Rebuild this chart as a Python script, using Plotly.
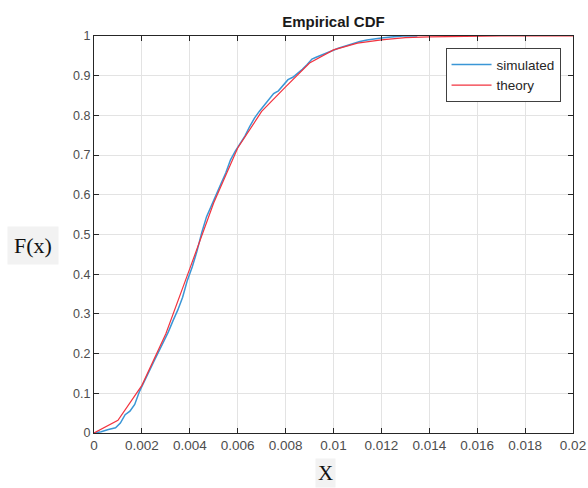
import plotly.graph_objects as go

# Theoretical CDF (piecewise at 0.001 steps)
theory_x = [0, 0.001, 0.002, 0.003, 0.004, 0.005, 0.006, 0.007, 0.008, 0.009, 0.010,
            0.011, 0.012, 0.013, 0.014, 0.015, 0.016, 0.017, 0.018, 0.019, 0.020]
theory_F = [0, 0.032, 0.12, 0.25, 0.414, 0.58, 0.718, 0.81, 0.872, 0.932, 0.965,
            0.982, 0.99, 0.996, 0.998, 0.999, 1.0, 1.0, 1.0, 1.0, 1.0]

# Simulated empirical CDF
sim_x = [0, 0.0003, 0.0006, 0.0009, 0.0011, 0.0013, 0.0015, 0.0017, 0.0019, 0.0021,
         0.0023, 0.0025, 0.0027, 0.0029, 0.0031, 0.0033, 0.0035, 0.0037, 0.0039, 0.0041,
         0.0043, 0.0045, 0.0047, 0.0049, 0.0051, 0.0053, 0.0055, 0.0057, 0.0059, 0.0061,
         0.0063, 0.0065, 0.0067, 0.0069, 0.0071, 0.0073, 0.0075, 0.0077, 0.0079, 0.0081,
         0.0083, 0.0085, 0.0087, 0.0089, 0.0091, 0.0093, 0.0095, 0.0097, 0.0099, 0.0102,
         0.0105, 0.0108, 0.0111, 0.0114, 0.0117, 0.0120, 0.0123, 0.0126, 0.0129, 0.0135]
sim_F = [0, 0.003, 0.009, 0.013, 0.025, 0.046, 0.055, 0.072, 0.105, 0.132,
         0.155, 0.18, 0.205, 0.228, 0.254, 0.283, 0.31, 0.342, 0.385, 0.418,
         0.458, 0.505, 0.545, 0.572, 0.598, 0.628, 0.655, 0.688, 0.71, 0.728,
         0.748, 0.772, 0.793, 0.81, 0.826, 0.842, 0.855, 0.862, 0.875, 0.89,
         0.896, 0.905, 0.916, 0.928, 0.942, 0.947, 0.952, 0.958, 0.963, 0.969,
         0.975, 0.981, 0.986, 0.99, 0.993, 0.995, 0.997, 0.999, 1.0, 1.0]

x_ticks = [0, 0.002, 0.004, 0.006, 0.008, 0.01, 0.012, 0.014, 0.016, 0.018, 0.02]
x_labels = ["0", "0.002", "0.004", "0.006", "0.008", "0.01", "0.012", "0.014", "0.016", "0.018", "0.02"]
y_ticks = [0, 0.1, 0.2, 0.3, 0.4, 0.5, 0.6, 0.7, 0.8, 0.9, 1]
y_labels = ["0", "0.1", "0.2", "0.3", "0.4", "0.5", "0.6", "0.7", "0.8", "0.9", "1"]

fig = go.Figure()
fig.add_trace(go.Scatter(x=sim_x, y=sim_F, mode="lines", name="simulated",
                         line=dict(color="#3a96d6", width=1.5)))
fig.add_trace(go.Scatter(x=theory_x, y=theory_F, mode="lines", name="theory",
                         line=dict(color="#f2333f", width=1.2)))

axis_common = dict(showline=True, linecolor="#262626", linewidth=1, mirror="allticks",
                   ticks="inside", ticklen=5, tickcolor="#262626",
                   showgrid=True, gridcolor="#e3e3e3", gridwidth=1, zeroline=False)

fig.update_xaxes(range=[0, 0.02], tickvals=x_ticks, ticktext=x_labels,
                 tickfont=dict(family="Liberation Sans, Arial", size=13.5, color="#4d4d4d"),
                 **axis_common)
fig.update_yaxes(range=[0, 1], tickvals=y_ticks, ticktext=y_labels,
                 tickfont=dict(family="Liberation Sans, Arial", size=12.5, color="#4d4d4d"),
                 **axis_common)

fig.update_layout(
    width=588, height=488,
    margin=dict(l=94, r=15, t=36, b=55, autoexpand=False),
    paper_bgcolor="white", plot_bgcolor="white",
    title=dict(text="<b>Empirical CDF</b>", x=0.567, xanchor="center", y=0.955, yanchor="middle",
               font=dict(family="Liberation Sans, Arial", size=15, color="#1a1a1a")),
    legend=dict(x=0.974, y=0.969, xanchor="right", yanchor="top",
                bgcolor="white", bordercolor="#404040", borderwidth=1,
                font=dict(family="Liberation Sans, Arial", size=13.5, color="#262626"),
                tracegroupgap=0, itemwidth=40),
    showlegend=True,
)

fig.add_annotation(text="F(x)", xref="paper", yref="paper", x=-0.127, y=0.473,
                   xanchor="center", yanchor="middle", showarrow=False,
                   font=dict(family="Liberation Serif, DejaVu Serif", size=22, color="#111111"),
                   bgcolor="#f2f2f2", borderpad=6)
fig.add_annotation(text="X", xref="paper", yref="paper", x=0.484, y=-0.1,
                   xanchor="center", yanchor="middle", showarrow=False,
                   font=dict(family="Liberation Serif, DejaVu Serif", size=21, color="#111111"),
                   bgcolor="#f2f2f2", borderpad=2)

fig.write_html("out.html", config={"displayModeBar": False},
               post_script="document.body.style.margin='0px';document.body.style.overflow='hidden';")
